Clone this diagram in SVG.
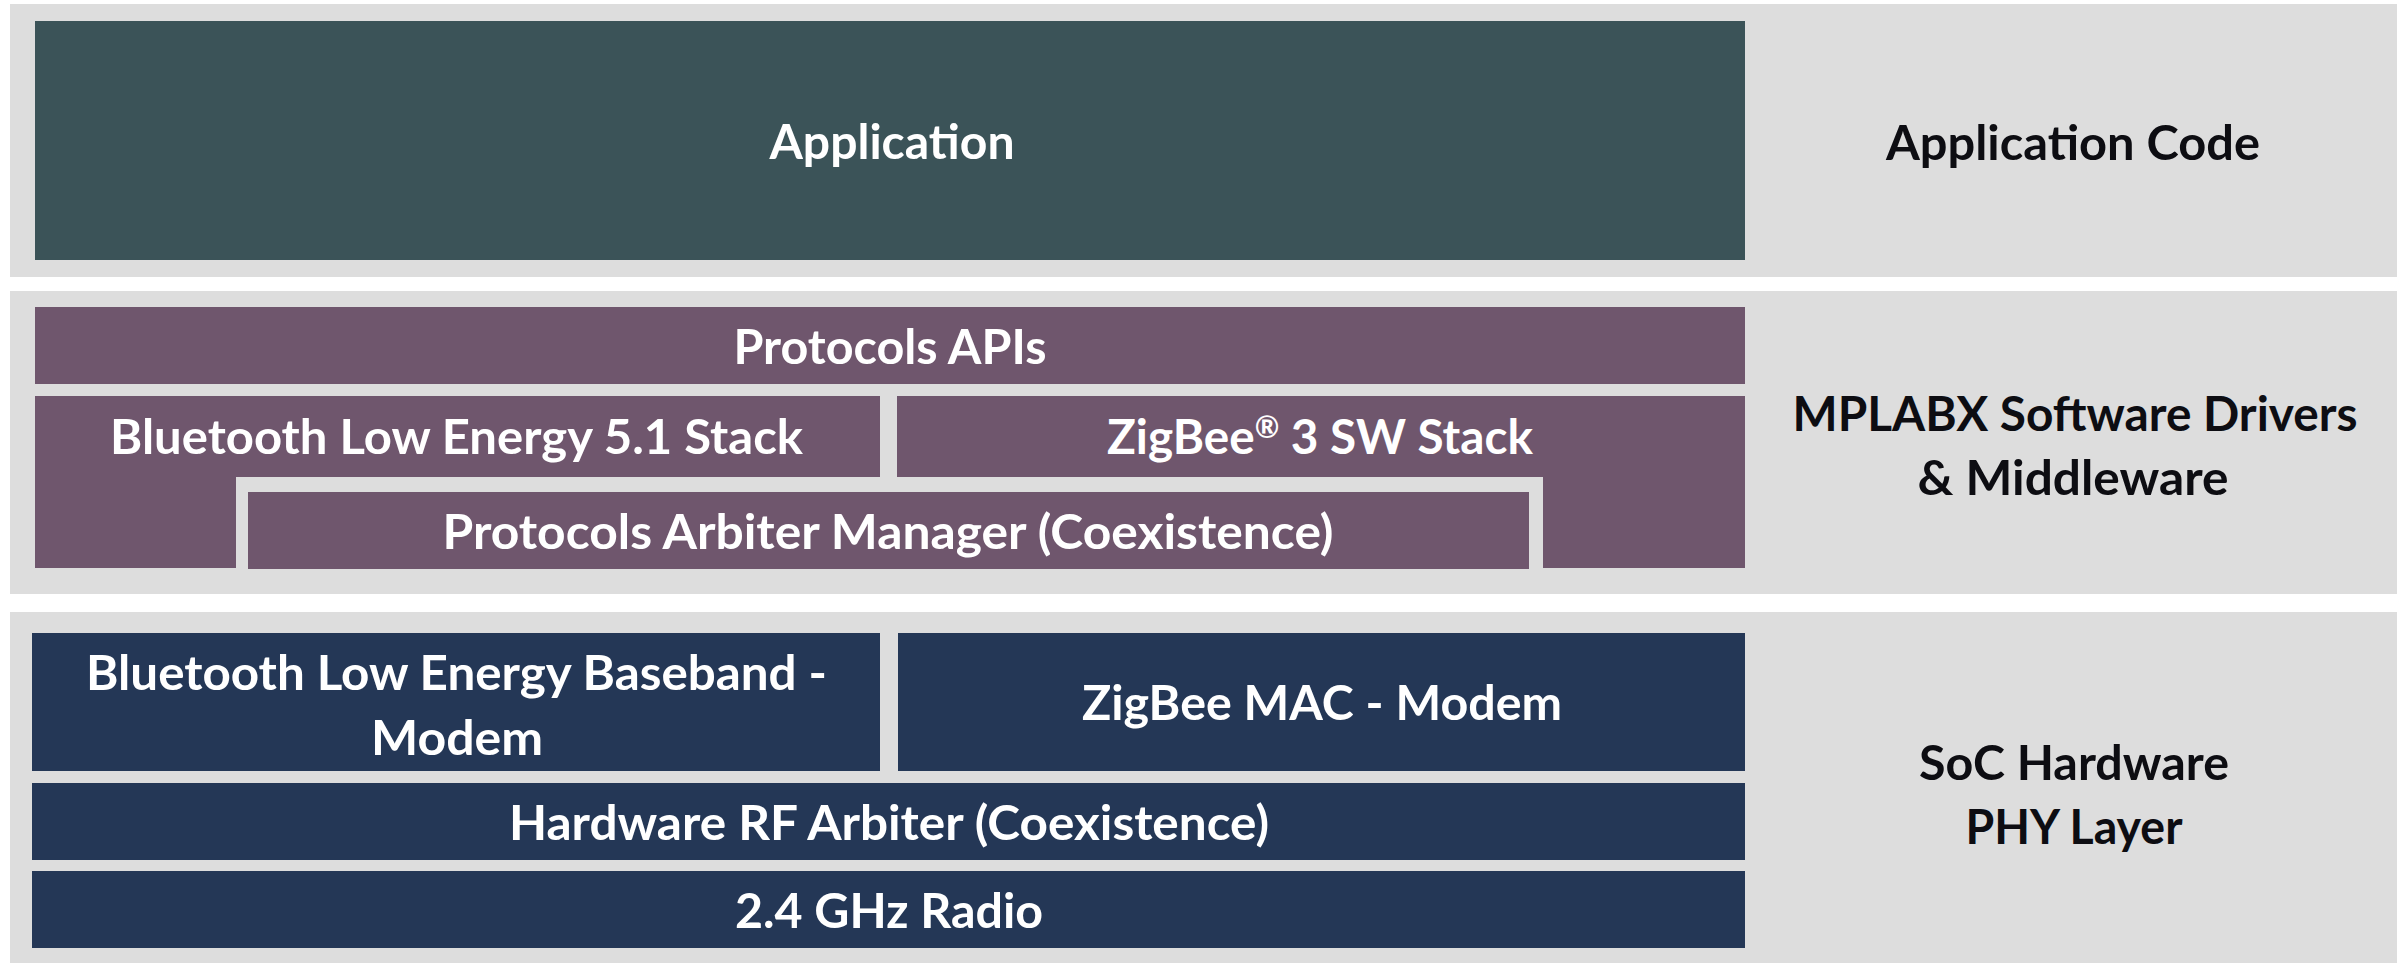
<svg xmlns="http://www.w3.org/2000/svg" width="2397" height="963" viewBox="0 0 2397 963">
  <style>
    .band { fill: #dddddd; }
    .app { fill: #3b5358; }
    .sw { fill: #6f566d; }
    .hw { fill: #243756; }
    .wt { fill: #ffffff; font-family: Lato, "Open Sans", "Liberation Sans", sans-serif; font-weight: 700; font-size: 48px; text-anchor: middle; }
    .bt { fill: #0d0d12; font-family: Lato, "Open Sans", "Liberation Sans", sans-serif; font-weight: 700; font-size: 48px; text-anchor: middle; }
  </style>
  <rect width="2397" height="963" fill="#ffffff"/>
  <g id="layers">
    <rect id="band-app" class="band" x="10" y="4" width="2387" height="273"/>
    <rect id="band-sw" class="band" x="10" y="291" width="2387" height="303"/>
    <rect id="band-hw" class="band" x="10" y="612" width="2387" height="351"/>
  </g>
  <g id="node-application">
    <rect class="app" x="35" y="21" width="1710" height="239"/>
    <text class="wt" x="892" y="159" textLength="245" lengthAdjust="spacingAndGlyphs">Application</text>
  </g>
  <g id="node-protocols-apis">
    <rect class="sw" x="35" y="307" width="1710" height="77"/>
    <text class="wt" x="890" y="364" textLength="313" lengthAdjust="spacingAndGlyphs">Protocols APIs</text>
  </g>
  <g id="node-ble-stack">
    <polygon class="sw" points="35,396 880,396 880,477 236,477 236,568 35,568"/>
    <text class="wt" x="456.5" y="454" textLength="693" lengthAdjust="spacingAndGlyphs">Bluetooth Low Energy 5.1 Stack</text>
  </g>
  <g id="node-zigbee-stack">
    <polygon class="sw" points="897,396 1745,396 1745,568 1543,568 1543,477 897,477"/>
    <text class="wt" x="1320" y="454" textLength="426" lengthAdjust="spacingAndGlyphs">ZigBee<tspan font-size="30" dy="-16">®</tspan><tspan dy="16"> 3 SW Stack</tspan></text>
  </g>
  <g id="node-arbiter-manager">
    <rect class="sw" x="248" y="492" width="1281" height="77"/>
    <text class="wt" x="888" y="549" textLength="891" lengthAdjust="spacingAndGlyphs">Protocols Arbiter Manager (Coexistence)</text>
  </g>
  <g id="node-ble-baseband">
    <rect class="hw" x="32" y="633" width="848" height="138"/>
    <text class="wt" x="456.5" y="690" textLength="741" lengthAdjust="spacingAndGlyphs">Bluetooth Low Energy Baseband -</text>
    <text class="wt" x="457" y="755" textLength="172" lengthAdjust="spacingAndGlyphs">Modem</text>
  </g>
  <g id="node-zigbee-mac">
    <rect class="hw" x="898" y="633" width="847" height="138"/>
    <text class="wt" x="1322" y="720" textLength="480" lengthAdjust="spacingAndGlyphs">ZigBee MAC - Modem</text>
  </g>
  <g id="node-rf-arbiter">
    <rect class="hw" x="32" y="783" width="1713" height="77"/>
    <text class="wt" x="889" y="840" textLength="760" lengthAdjust="spacingAndGlyphs">Hardware RF Arbiter (Coexistence)</text>
  </g>
  <g id="node-radio">
    <rect class="hw" x="32" y="871" width="1713" height="77"/>
    <text class="wt" x="889" y="928" textLength="308" lengthAdjust="spacingAndGlyphs">2.4 GHz Radio</text>
  </g>
  <g id="label-application-code">
    <text class="bt" x="2073" y="160" textLength="374" lengthAdjust="spacingAndGlyphs">Application Code</text>
  </g>
  <g id="label-mplabx">
    <text class="bt" x="2075" y="431" textLength="565" lengthAdjust="spacingAndGlyphs">MPLABX Software Drivers</text>
    <text class="bt" x="2073" y="495" textLength="311" lengthAdjust="spacingAndGlyphs">&amp; Middleware</text>
  </g>
  <g id="label-soc">
    <text class="bt" x="2074" y="780" textLength="310" lengthAdjust="spacingAndGlyphs">SoC Hardware</text>
    <text class="bt" x="2074" y="844" textLength="217" lengthAdjust="spacingAndGlyphs">PHY Layer</text>
  </g>
  <g id="connectors"/>
</svg>
